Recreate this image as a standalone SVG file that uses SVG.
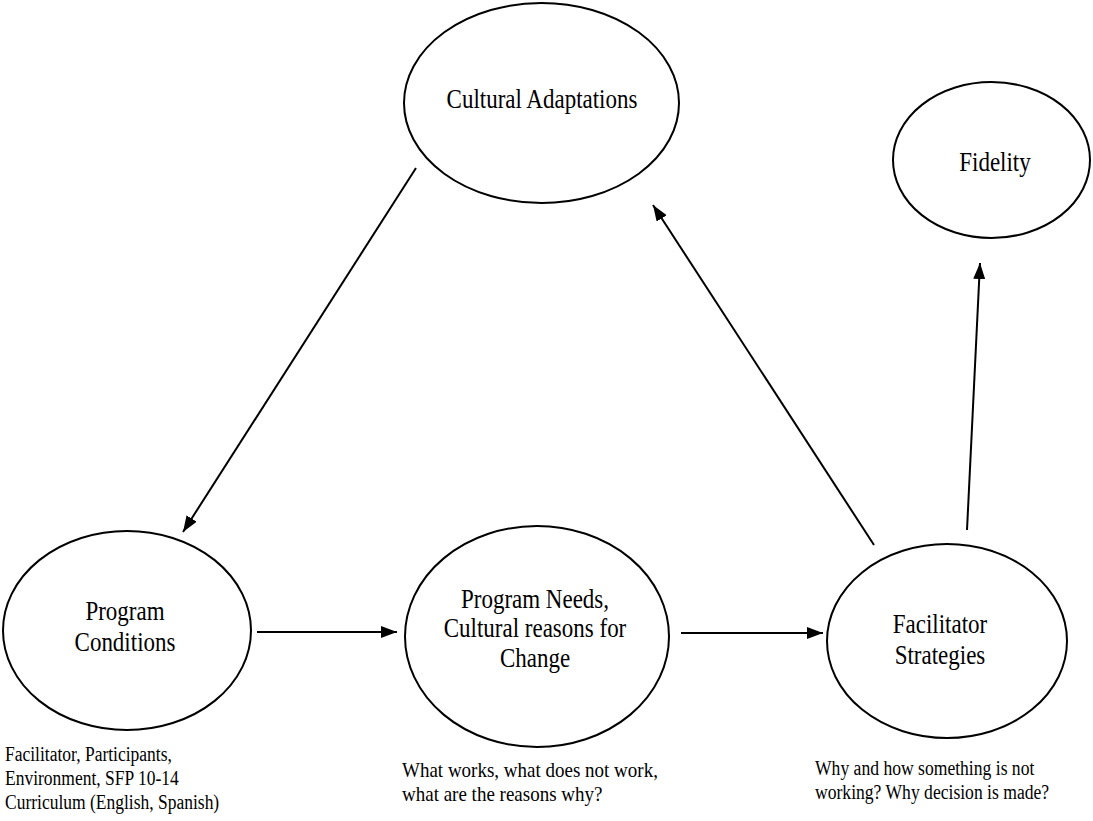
<svg xmlns="http://www.w3.org/2000/svg" width="1093" height="821" viewBox="0 0 1093 821">
<style>
.node ellipse{fill:#fff;stroke:#000;stroke-width:2}
.lbl{font-size:23px;fill:#000;text-anchor:middle}
.note{fill:#000}
.nl{font-size:17.5px}
.nm{font-size:19px}
.nr{font-size:17.6px}
.conn line{stroke:#000;stroke-width:2;fill:none}
</style>
<defs>
<marker id="ah" markerUnits="userSpaceOnUse" markerWidth="18" markerHeight="14" refX="16" refY="6" orient="auto">
<path d="M0,0 L16,6 L0,12 z" fill="#000"/>
</marker>
</defs>
<rect width="1093" height="821" fill="#fff"/>
<g class="conn">
<line x1="416" y1="168" x2="183" y2="532" marker-end="url(#ah)"/>
<line x1="257" y1="632" x2="397" y2="632" marker-end="url(#ah)"/>
<line x1="681" y1="633" x2="823" y2="633" marker-end="url(#ah)"/>
<line x1="874" y1="545" x2="653" y2="205" marker-end="url(#ah)"/>
<line x1="967" y1="530" x2="980" y2="263" marker-end="url(#ah)"/>
</g>
<g font-family="Liberation Serif, DejaVu Serif, serif">
<g id="cultural" class="node">
<ellipse cx="541.5" cy="103" rx="137.5" ry="100"/>
<text class="lbl" transform="translate(542,108) scale(1,1.15)">Cultural Adaptations</text>
</g>
<g id="fidelity" class="node">
<ellipse cx="991.5" cy="160" rx="98.5" ry="78"/>
<text class="lbl" transform="translate(995,171) scale(1,1.15)">Fidelity</text>
</g>
<g id="conditions" class="node">
<ellipse cx="127" cy="630.5" rx="124" ry="99.5"/>
<text class="lbl" transform="translate(125,620) scale(1,1.15)">Program</text>
<text class="lbl" transform="translate(125,651) scale(1,1.15)">Conditions</text>
</g>
<g id="needs" class="node">
<ellipse cx="537" cy="636.5" rx="132" ry="110.5"/>
<text class="lbl" transform="translate(535,608) scale(1,1.15)">Program Needs,</text>
<text class="lbl" transform="translate(535,637) scale(1,1.15)">Cultural reasons for</text>
<text class="lbl" transform="translate(535,667) scale(1,1.15)">Change</text>
</g>
<g id="strategies" class="node">
<ellipse cx="947" cy="641" rx="120" ry="97"/>
<text class="lbl" transform="translate(940,633) scale(1,1.15)">Facilitator</text>
<text class="lbl" transform="translate(940,664) scale(1,1.15)">Strategies</text>
</g>
<g id="notes">
<text class="note nl" transform="translate(5,761) scale(1,1.17)">Facilitator, Participants,</text>
<text class="note nl" transform="translate(5,785) scale(1,1.17)">Environment, SFP 10-14</text>
<text class="note nl" transform="translate(5,809) scale(1,1.17)">Curriculum (English, Spanish)</text>
<text class="note nm" transform="translate(402,777) scale(1,1.1)">What works, what does not work,</text>
<text class="note nm" transform="translate(402,801) scale(1,1.1)">what are the reasons why?</text>
<text class="note nr" transform="translate(815,775) scale(1,1.15)">Why and how something is not</text>
<text class="note nr" transform="translate(815,799) scale(1,1.15)">working? Why decision is made?</text>
</g>
</g>
</svg>
